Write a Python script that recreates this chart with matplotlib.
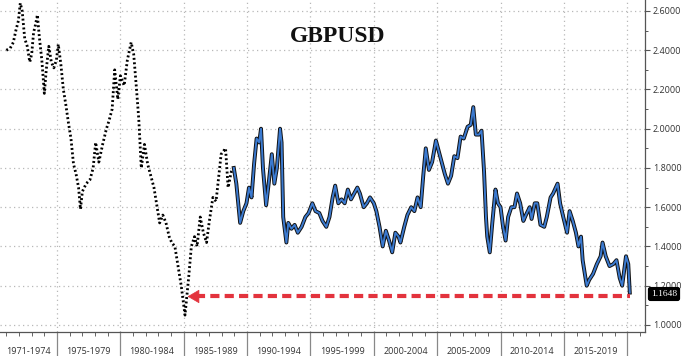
import matplotlib
matplotlib.use("Agg")
import matplotlib.pyplot as plt
from matplotlib.ticker import MultipleLocator, FixedLocator, NullFormatter

# ---- data ----
years_early = [1971.00, 1971.30, 1971.55, 1971.75, 1971.95, 1972.10, 1972.25, 1972.45, 1972.65, 1972.85,
               1973.00, 1973.15, 1973.30, 1973.45, 1973.60, 1973.80, 1974.00, 1974.15, 1974.35, 1974.55,
               1974.75, 1974.95, 1975.10, 1975.30, 1975.50, 1975.70, 1975.90, 1976.10, 1976.30, 1976.50,
               1976.70, 1976.85, 1977.00, 1977.30, 1977.60, 1977.85, 1978.05, 1978.30, 1978.60, 1978.90,
               1979.10, 1979.35, 1979.55, 1979.80, 1980.00, 1980.30, 1980.55, 1980.85, 1981.05, 1981.25,
               1981.45, 1981.65, 1981.90, 1982.15, 1982.40, 1982.65, 1982.90, 1983.10, 1983.35, 1983.60,
               1983.85, 1984.05, 1984.30, 1984.55, 1984.80, 1985.00, 1985.10, 1985.25, 1985.40, 1985.60,
               1985.85, 1986.05, 1986.30, 1986.55, 1986.80, 1987.00, 1987.30, 1987.55, 1987.80, 1987.95,
               1988.30, 1988.50, 1988.75, 1988.95]
values_early = [2.40, 2.41, 2.44, 2.50, 2.55, 2.64, 2.60, 2.46, 2.42, 2.34,
                2.38, 2.49, 2.53, 2.58, 2.47, 2.35, 2.18, 2.30, 2.42, 2.34,
                2.31, 2.35, 2.43, 2.33, 2.20, 2.12, 2.03, 1.95, 1.82, 1.77,
                1.70, 1.59, 1.68, 1.72, 1.74, 1.80, 1.93, 1.83, 1.92, 2.00,
                2.04, 2.10, 2.30, 2.15, 2.27, 2.22, 2.35, 2.44, 2.38, 2.22,
                2.05, 1.80, 1.92, 1.82, 1.76, 1.70, 1.60, 1.52, 1.56, 1.52,
                1.45, 1.42, 1.40, 1.30, 1.20, 1.10, 1.05, 1.15, 1.25, 1.40,
                1.45, 1.40, 1.55, 1.47, 1.42, 1.52, 1.65, 1.63, 1.78, 1.87,
                1.90, 1.70, 1.78, 1.80]

years_late = [1988.95, 1989.15, 1989.45, 1989.70, 1989.95, 1990.15, 1990.35, 1990.55, 1990.75, 1990.95,
              1991.10, 1991.25, 1991.50, 1991.70, 1991.95, 1992.15, 1992.35, 1992.60, 1992.72, 1992.85,
              1993.10, 1993.25, 1993.50, 1993.75, 1994.00, 1994.30, 1994.60, 1994.85, 1995.15, 1995.40,
              1995.70, 1995.95, 1996.25, 1996.50, 1996.75, 1996.95, 1997.20, 1997.45, 1997.70, 1997.95,
              1998.20, 1998.45, 1998.70, 1998.90, 1999.20, 1999.45, 1999.70, 2000.00, 2000.20, 2000.45,
              2000.70, 2000.95, 2001.20, 2001.45, 2001.70, 2001.95, 2002.10, 2002.40, 2002.65, 2002.95,
              2003.20, 2003.45, 2003.70, 2003.90, 2004.10, 2004.35, 2004.60, 2004.90, 2005.15, 2005.40,
              2005.60, 2005.85, 2006.10, 2006.35, 2006.60, 2006.85, 2007.10, 2007.40, 2007.65, 2007.85,
              2008.05, 2008.30, 2008.50, 2008.70, 2008.85, 2008.95, 2009.15, 2009.35, 2009.60, 2009.80,
              2010.00, 2010.20, 2010.40, 2010.60, 2010.85, 2011.10, 2011.30, 2011.55, 2011.80, 2012.00,
              2012.30, 2012.45, 2012.70, 2012.90, 2013.15, 2013.45, 2013.65, 2013.95, 2014.15, 2014.50,
              2014.70, 2014.95, 2015.25, 2015.45, 2015.70, 2015.95, 2016.15, 2016.35, 2016.48, 2016.65,
              2016.80, 2017.00, 2017.30, 2017.60, 2017.90, 2018.05, 2018.30, 2018.60, 2018.90, 2019.15,
              2019.40, 2019.60, 2019.90, 2020.08, 2020.20]
values_late = [1.80, 1.72, 1.52, 1.58, 1.62, 1.70, 1.65, 1.82, 1.95, 1.93,
               2.00, 1.80, 1.61, 1.72, 1.87, 1.72, 1.80, 2.00, 1.93, 1.55,
               1.42, 1.52, 1.49, 1.51, 1.47, 1.50, 1.55, 1.57, 1.62, 1.58,
               1.57, 1.53, 1.50, 1.55, 1.65, 1.71, 1.62, 1.64, 1.62, 1.69,
               1.64, 1.67, 1.70, 1.67, 1.60, 1.62, 1.65, 1.62, 1.58, 1.50,
               1.40, 1.48, 1.43, 1.37, 1.47, 1.45, 1.42, 1.50, 1.56, 1.60,
               1.58, 1.65, 1.60, 1.76, 1.90, 1.79, 1.83, 1.94, 1.88, 1.82,
               1.77, 1.72, 1.76, 1.86, 1.85, 1.96, 1.95, 2.01, 2.02, 2.11,
               1.97, 1.97, 1.99, 1.78, 1.55, 1.45, 1.37, 1.52, 1.69, 1.62,
               1.60, 1.50, 1.43, 1.55, 1.60, 1.60, 1.67, 1.62, 1.53, 1.56,
               1.60, 1.54, 1.62, 1.62, 1.51, 1.50, 1.55, 1.65, 1.67, 1.72,
               1.62, 1.55, 1.47, 1.58, 1.53, 1.47, 1.40, 1.45, 1.33, 1.26,
               1.20, 1.23, 1.26, 1.31, 1.35, 1.42, 1.35, 1.30, 1.31, 1.33,
               1.24, 1.20, 1.35, 1.31, 1.1648]

period_labels = ["1971-1974", "1975-1979", "1980-1984", "1985-1989", "1990-1994",
                 "1995-1999", "2000-2004", "2005-2009", "2010-2014", "2015-2019"]
period_starts = [1970.5, 1975, 1980, 1985, 1990, 1995, 2000, 2005, 2010, 2015]
period_ends = [1975, 1980, 1985, 1990, 1995, 2000, 2005, 2010, 2015, 2020]
last_value = 1.1648
arrow_level = 1.145
arrow_tip_year = 1985.3
title = "GBPUSD"

# ---- figure ----
fig = plt.figure(figsize=(6.88, 3.56), dpi=100)
ax = fig.add_axes([0.0, 24 / 356, 645 / 688, 332 / 356])
ax.set_xlim(1970.5, 2021.4)
ax.set_ylim(0.964, 2.656)

grid_col = "#b8b8b8"
for yv in [1.0, 1.2, 1.4, 1.6, 1.8, 2.0, 2.2, 2.4, 2.6]:
    ax.axhline(yv, color=grid_col, lw=0.9, ls=(0, (1, 2.6)), zorder=0)
for xv in period_ends:
    ax.axvline(xv, color=grid_col, lw=0.9, ls=(0, (1, 2.6)), zorder=0)

# series
ax.plot(years_early, values_early, color="black", lw=2.0, ls=(0, (0.7, 0.9)), zorder=3)
ax.plot(years_late, values_late, color="#111111", lw=2.8, zorder=3)
ax.plot(years_late, values_late, color="#3b7ad0", lw=1.4, zorder=4)

# red arrow
red = "#e3333d"
ax.plot([arrow_tip_year + 0.8, years_late[-1]], [arrow_level, arrow_level], color=red, lw=3.0,
        ls=(0.5, (2.2, 1.25)), solid_capstyle="butt", dash_capstyle="butt", zorder=5)
ax.annotate("", xy=(arrow_tip_year, arrow_level), xytext=(arrow_tip_year + 0.9, arrow_level),
            arrowprops=dict(arrowstyle="-|>,head_length=0.55,head_width=0.32", mutation_scale=14,
                            color=red, lw=0.5, shrinkA=0, shrinkB=0), zorder=6)

# title
ax.text(338 / 645, 1 - 37 / 332, title, transform=ax.transAxes, ha="center", va="center",
        fontsize=17, fontweight="bold", family="Liberation Serif", color="#111111")

# spines
for s in ["top", "left"]:
    ax.spines[s].set_visible(False)
for s in ["right", "bottom"]:
    ax.spines[s].set_color("#555555")
    ax.spines[s].set_linewidth(0.9)

# y axis on the right
ax.yaxis.tick_right()
ax.yaxis.set_major_locator(MultipleLocator(0.2))
ax.yaxis.set_minor_locator(MultipleLocator(0.1))
ax.yaxis.set_major_formatter(matplotlib.ticker.FormatStrFormatter("%.4f"))
ax.tick_params(axis="y", which="major", length=3.6, width=0.8, color="#555555", pad=2,
               labelsize=6.5, labelcolor="#333333")
ax.tick_params(axis="y", which="minor", length=2, width=0.7, color="#555555")
for lab in ax.get_yticklabels():
    lab.set_family("Open Sans")

# x axis: yearly minor ticks, labels centered on the periods
ax.xaxis.set_minor_locator(FixedLocator(list(range(1971, 2022))))
ax.xaxis.set_minor_formatter(NullFormatter())
centers = [(a + b) / 2 for a, b in zip(period_starts, period_ends)]
ax.set_xticks(centers)
ax.set_xticklabels(period_labels, family="Open Sans")
ax.tick_params(axis="x", which="major", length=0, pad=10.5, labelsize=6.5, labelcolor="#333333")
ax.tick_params(axis="x", which="minor", length=3, width=0.7, color="#666666")

# period separators below the axis
for xv in period_ends:
    ax.plot([xv, xv], [0, -24 / 332], transform=ax.get_xaxis_transform(), color="#888888",
            lw=0.9, clip_on=False)

# last value tag
fig.text(664 / 688, 1 - 294 / 356, "%.4f" % last_value, ha="center", va="center",
         fontsize=6.8, family="Liberation Serif", color="white",
         bbox=dict(boxstyle="round,pad=0.25,rounding_size=0.2", fc="black", ec="black"), zorder=10)

fig.savefig("out.png", dpi=100)
